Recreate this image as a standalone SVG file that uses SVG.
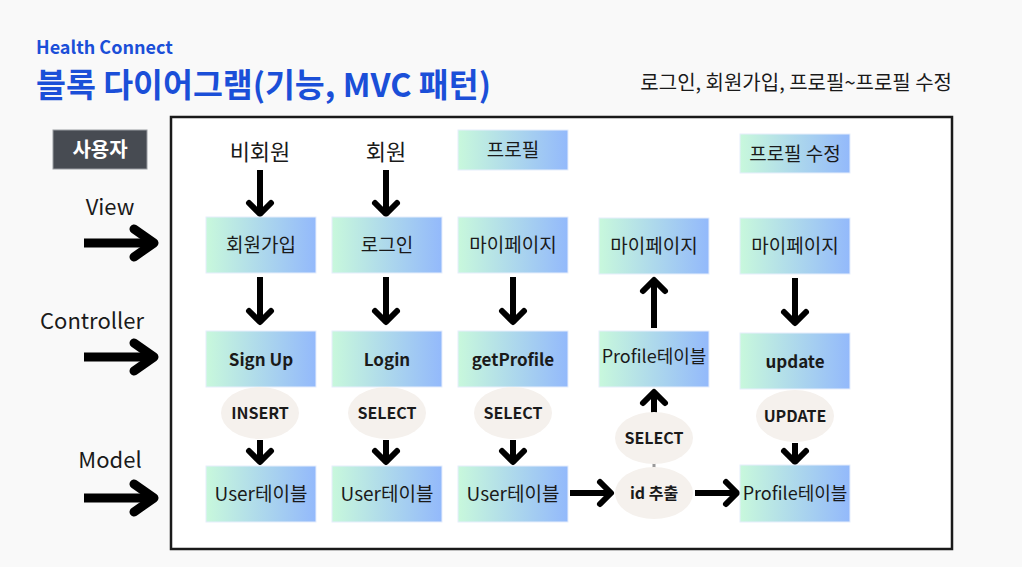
<svg xmlns="http://www.w3.org/2000/svg" width="1022" height="567" viewBox="0 0 1022 567">
<defs>
<linearGradient id="g" x1="0" y1="0" x2="1" y2="0">
<stop offset="0" stop-color="#c8f8dc"/>
<stop offset="1" stop-color="#93b9fb"/>
</linearGradient>
<style>
text{font-family:"Noto Sans CJK KR","Noto Sans",sans-serif;}
.box{fill:url(#g);stroke:#e6eefc;stroke-width:1;}
.t{font-size:19px;fill:#1a1a1a;text-anchor:middle;}
.tp{font-size:18px;fill:#1a1a1a;text-anchor:middle;}
.tb{font-size:17px;font-weight:bold;fill:#1a1a1a;text-anchor:middle;}
.el{fill:#f5f1ed;}
.et{font-size:16px;font-weight:bold;fill:#1a1a1a;text-anchor:middle;}
.lbl{font-size:22px;fill:#1a1a1a;text-anchor:middle;}
.a{fill:none;stroke:#000;stroke-width:6;stroke-linecap:round;stroke-linejoin:round;}
.s{fill:none;stroke:#000;stroke-width:6;stroke-linecap:butt;}
.big{fill:none;stroke:#000;stroke-width:9;stroke-linecap:round;stroke-linejoin:round;}
.bigs{fill:none;stroke:#000;stroke-width:9;stroke-linecap:butt;}
</style>
</defs>
<rect width="1022" height="567" fill="#f9f9f9"/>
<g id="title">
<text x="36" y="54" font-size="18" font-weight="bold" fill="#1b4fd8">Health Connect</text>
<text x="36" y="97" font-size="32.5" font-weight="bold" fill="#1b4fd8">블록 다이어그램(기능, MVC 패턴)</text>
<text x="952" y="90" font-size="20" fill="#1a1a1a" text-anchor="end">로그인, 회원가입, 프로필~프로필 수정</text>
</g>
<rect id="frame" x="171" y="117" width="781" height="432" fill="#fff" stroke="#1a1a1a" stroke-width="2.5"/>
<g id="user">
<rect x="53" y="130" width="94" height="39" fill="#474b52" stroke="#9a9da2" stroke-width="1"/>
<text x="100" y="157" font-size="20" font-weight="bold" fill="#fff" text-anchor="middle">사용자</text>
</g>
<g id="layers">
<text class="lbl" x="110" y="215">View</text>
<text class="lbl" x="92" y="329">Controller</text>
<text class="lbl" x="110" y="468">Model</text>
</g>
<g id="connectors">
<path class="bigs" d="M84 243 H152"/><path class="big" d="M134 229 L154 243 L134 257"/>
<path class="bigs" d="M84 357 H152"/><path class="big" d="M134 343 L154 357 L134 371"/>
<path class="bigs" d="M84 498 H152"/><path class="big" d="M134 484 L154 498 L134 512"/>
<path class="s" d="M260 170 V213"/><path class="a" d="M249 203 L260 214 L271 203"/>
<path class="s" d="M386 170 V213"/><path class="a" d="M375 203 L386 214 L397 203"/>
<path class="s" d="M260 277 V322"/><path class="a" d="M249 311 L260 322 L271 311"/>
<path class="s" d="M386 277 V322"/><path class="a" d="M375 311 L386 322 L397 311"/>
<path class="s" d="M513 277 V322"/><path class="a" d="M502 311 L513 322 L524 311"/>
<path class="s" d="M795 278 V323"/><path class="a" d="M784 312 L795 323 L806 312"/>
<path class="s" d="M654 328 V280"/><path class="a" d="M643 291 L654 280 L665 291"/>
<path class="s" d="M260 440 V461"/><path class="a" d="M249 451 L260 462 L271 451"/>
<path class="s" d="M386 440 V461"/><path class="a" d="M375 451 L386 462 L397 451"/>
<path class="s" d="M513 440 V461"/><path class="a" d="M502 451 L513 462 L524 451"/>
<path class="s" d="M795 443 V461"/><path class="a" d="M784 451 L795 462 L806 451"/>
<path class="s" d="M654 414 V392"/><path class="a" d="M643 403 L654 392 L665 403"/>
<path d="M654 470 V458" stroke="#999" stroke-width="3"/>
<path class="s" d="M570 493 H610"/><path class="a" d="M600 482 L611 493 L600 504"/>
<path class="s" d="M695 493 H736"/><path class="a" d="M726 482 L737 493 L726 504"/>
</g>
<g id="n-bihoewon"><text class="lbl" x="260" y="160">비회원</text></g>
<g id="n-hoewon"><text class="lbl" x="386" y="160">회원</text></g>
<g id="n-profile"><rect class="box" x="458" y="130" width="110" height="40"/><text class="t" x="513" y="157">프로필</text></g>
<g id="n-profile-edit"><rect class="box" x="740" y="134" width="110" height="39"/><text class="t" x="795" y="161">프로필 수정</text></g>
<g id="n-signup-view"><rect class="box" x="206" y="217" width="110" height="56"/><text class="t" x="261" y="252">회원가입</text></g>
<g id="n-login-view"><rect class="box" x="332" y="217" width="110" height="56"/><text class="t" x="387" y="252">로그인</text></g>
<g id="n-mypage1"><rect class="box" x="458" y="217" width="110" height="56"/><text class="t" x="513" y="252">마이페이지</text></g>
<g id="n-mypage2"><rect class="box" x="599" y="218" width="110" height="56"/><text class="t" x="654" y="253">마이페이지</text></g>
<g id="n-mypage3"><rect class="box" x="740" y="218" width="110" height="56"/><text class="t" x="795" y="253">마이페이지</text></g>
<g id="n-signup"><rect class="box" x="206" y="331" width="110" height="56"/><text class="tb" x="261" y="366">Sign Up</text></g>
<g id="n-login"><rect class="box" x="332" y="331" width="110" height="56"/><text class="tb" x="387" y="366">Login</text></g>
<g id="n-getprofile"><rect class="box" x="458" y="331" width="110" height="56"/><text class="tb" x="513" y="366">getProfile</text></g>
<g id="n-profiletable1"><rect class="box" x="599" y="331" width="110" height="56"/><text class="tp" x="654" y="363">Profile테이블</text></g>
<g id="n-update"><rect class="box" x="740" y="333" width="110" height="56"/><text class="tb" x="795" y="368">update</text></g>
<g id="e-insert"><ellipse class="el" cx="260" cy="413" rx="39" ry="26"/><text class="et" x="260" y="419">INSERT</text></g>
<g id="e-select1"><ellipse class="el" cx="387" cy="413" rx="39" ry="26"/><text class="et" x="387" y="419">SELECT</text></g>
<g id="e-select2"><ellipse class="el" cx="513" cy="413" rx="39" ry="26"/><text class="et" x="513" y="419">SELECT</text></g>
<g id="e-select3"><ellipse class="el" cx="654" cy="438" rx="39" ry="26"/><text class="et" x="654" y="444">SELECT</text></g>
<g id="e-id"><ellipse class="el" cx="654" cy="493" rx="39" ry="26"/><text class="et" x="654" y="499">id 추출</text></g>
<g id="e-update"><ellipse class="el" cx="795" cy="416" rx="39" ry="26"/><text class="et" x="795" y="422">UPDATE</text></g>
<g id="n-user1"><rect class="box" x="206" y="466" width="110" height="56"/><text class="t" x="261" y="501">User테이블</text></g>
<g id="n-user2"><rect class="box" x="332" y="466" width="110" height="56"/><text class="t" x="387" y="501">User테이블</text></g>
<g id="n-user3"><rect class="box" x="458" y="466" width="110" height="56"/><text class="t" x="513" y="501">User테이블</text></g>
<g id="n-profiletable2"><rect class="box" x="740" y="465" width="110" height="57"/><text class="tp" x="795" y="500">Profile테이블</text></g>
</svg>
